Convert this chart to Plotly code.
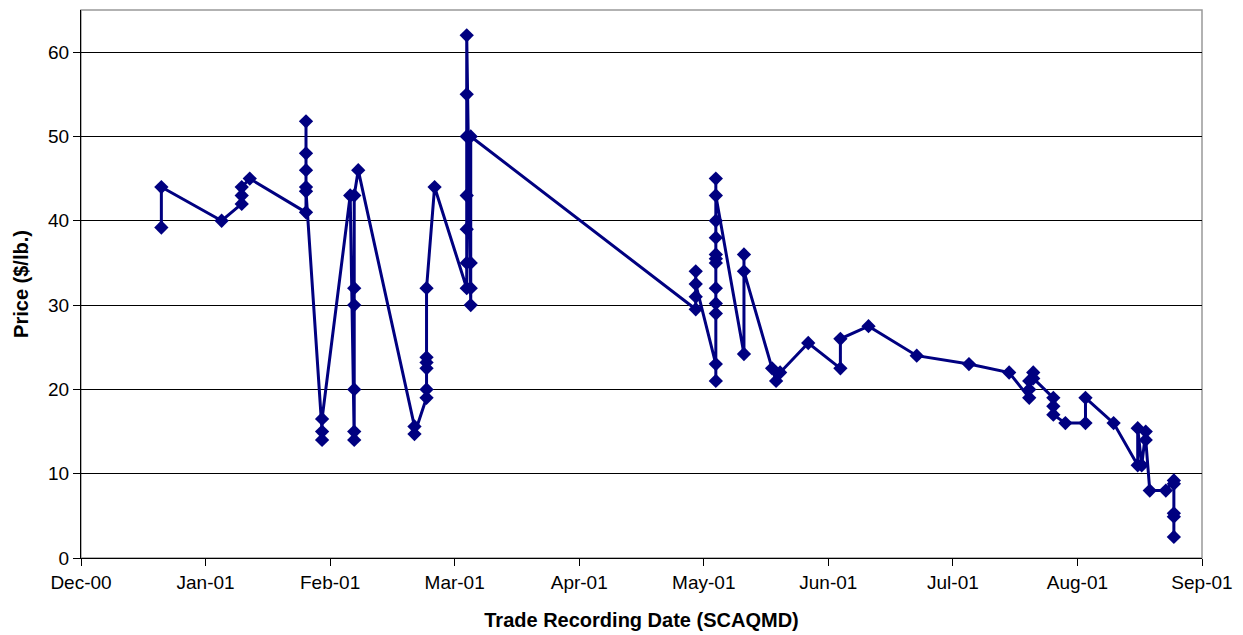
import plotly.graph_objects as go
import pandas as pd

# Trade records (date, price $/lb), in plotted order
dates = (
    ["2000-12-21"] * 2 +
    ["2001-01-05"] +
    ["2001-01-10"] * 3 +
    ["2001-01-12"] +
    ["2001-01-26"] * 6 +
    ["2001-01-30"] * 3 +
    ["2001-02-06"] +
    ["2001-02-07"] * 6 +
    ["2001-02-08"] +
    ["2001-02-22"] * 2 +
    ["2001-02-25"] * 6 +
    ["2001-02-27"] +
    ["2001-03-07"] * 7 +
    ["2001-03-08"] * 4 +
    ["2001-05-03"] * 4 +
    ["2001-05-08"] * 12 +
    ["2001-05-15"] * 3 +
    ["2001-05-22"] +
    ["2001-05-23"] +
    ["2001-05-24"] +
    ["2001-05-31"] +
    ["2001-06-08"] * 2 +
    ["2001-06-15"] +
    ["2001-06-27"] +
    ["2001-07-10"] +
    ["2001-07-20"] +
    ["2001-07-25"] * 3 +
    ["2001-07-26"] * 2 +
    ["2001-07-31"] * 3 +
    ["2001-08-03"] +
    ["2001-08-08"] * 2 +
    ["2001-08-15"] +
    ["2001-08-21"] * 2 +
    ["2001-08-22"] +
    ["2001-08-23"] * 2 +
    ["2001-08-24"] +
    ["2001-08-28"] +
    ["2001-08-30"] * 5
)
prices = [
    39.2, 44,
    40,
    42, 43, 44,
    45,
    41, 51.8, 48, 46, 44, 43.5,
    15, 14, 16.5,
    43,
    14, 15, 20, 30, 32, 43,
    46,
    15.6, 14.7,
    19, 20, 22.5, 23.2, 23.8, 32,
    44,
    32, 35, 39, 43, 50, 55, 62,
    30, 32, 35, 50,
    29.5, 31, 34, 32.5,
    23, 21, 29, 30.2, 32, 35, 35.5, 36, 38, 40, 45, 43,
    24.2, 36, 34,
    22.5,
    21,
    22,
    25.5,
    22.5, 26,
    27.5,
    24,
    23,
    22,
    19, 20, 21,
    22, 21.3,
    19, 18, 17,
    16,
    16, 19,
    16,
    11, 15.4,
    11,
    15, 14,
    8,
    8,
    9.2, 8.8, 5.3, 4.9, 2.5,
]

tick_labels = ["Dec-00", "Jan-01", "Feb-01", "Mar-01", "Apr-01",
               "May-01", "Jun-01", "Jul-01", "Aug-01", "Sep-01"]
y_ticks = [0, 10, 20, 30, 40, 50, 60]

tick_dates = pd.date_range("2000-12-01", periods=len(tick_labels), freq="31D")
tick_vals = [d.strftime("%Y-%m-%d") for d in tick_dates]

NAVY = "#000080"
FONT = "Liberation Sans, Arial, sans-serif"

fig = go.Figure()
fig.add_trace(go.Scatter(
    x=dates, y=prices, mode="lines+markers",
    line=dict(color=NAVY, width=3),
    marker=dict(symbol="diamond", size=11, color=NAVY),
    showlegend=False,
))

fig.update_layout(
    width=1243, height=635,
    margin=dict(l=73, r=49, t=2, b=85),
    paper_bgcolor="white", plot_bgcolor="white",
    font=dict(family=FONT, size=19, color="black"),
    xaxis=dict(
        type="date",
        range=[tick_vals[0], tick_vals[-1]],
        tickvals=tick_vals, ticktext=tick_labels,
        ticks="outside", ticklen=7, tickcolor="black",
        showline=True, linecolor="black", linewidth=1,
        showgrid=False, zeroline=False,
        title=dict(text="<b>Trade Recording Date (SCAQMD)</b>",
                   font=dict(size=20), standoff=21),
        tickfont=dict(size=19),
    ),
    yaxis=dict(
        range=[0, 65],
        tickvals=y_ticks,
        ticks="outside", ticklen=7, tickcolor="black",
        showline=True, linecolor="black", linewidth=1,
        showgrid=True, gridcolor="black", gridwidth=1,
        zeroline=False,
        title=dict(text="<b>Price ($/lb.)</b>", font=dict(size=20), standoff=14),
        tickfont=dict(size=19),
    ),
    shapes=[dict(type="rect", xref="paper", yref="paper", x0=0, y0=0, x1=1, y1=1,
                 line=dict(color="#999999", width=1.5), layer="below")],
)

fig.write_html("out.html")
